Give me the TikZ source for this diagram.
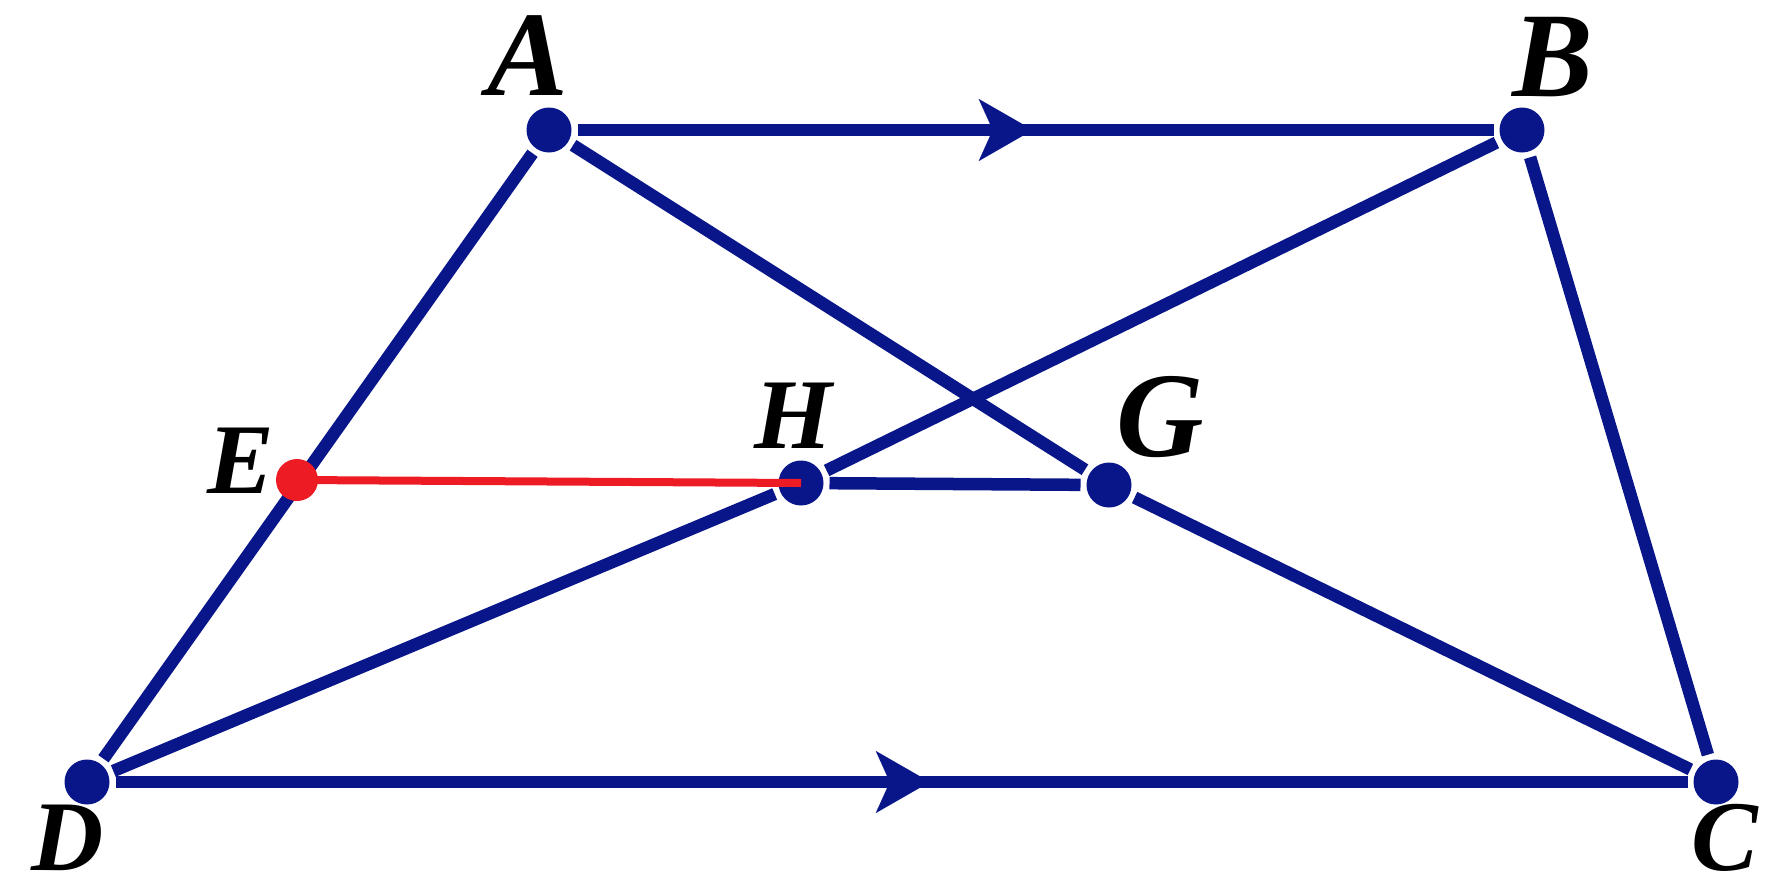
\documentclass[tikz,border=0pt]{standalone}
\usepackage{fontspec}
\setmainfont{Liberation Serif}
\usetikzlibrary{arrows.meta,decorations.markings,backgrounds}
\definecolor{navy}{RGB}{8,22,138}
\definecolor{redpt}{RGB}{237,28,36}
\begin{document}
\begin{tikzpicture}[x=1pt,y=-1pt,
  dot/.style={circle,fill=navy,inner sep=0pt,minimum size=45pt,outer sep=6pt},
  reddot/.style={circle,fill=redpt,inner sep=0pt,minimum size=42pt,outer sep=0pt},
  edge/.style={draw=navy,line width=12.5pt},
  redline/.style={draw=redpt,line width=8pt},
  biglab/.style={inner sep=0pt,font=\bfseries\itshape\fontsize{121}{121}\selectfont},
  smalllab/.style={inner sep=0pt,font=\bfseries\itshape\fontsize{100}{100}\selectfont},
  midarrow/.style={postaction={decorate},decoration={markings,mark=at position #1 with {\arrow{Stealth[length=54pt,width=62pt,inset=14pt,line width=0.01pt]}}}},
]
\useasboundingbox (0,0) rectangle (1774,887);
% points
\node[dot] (A) at (549,130) {};
\node[dot] (B) at (1522,130) {};
\node[dot] (C) at (1716,782) {};
\node[dot] (D) at (87,782) {};
\node[dot] (H) at (801,483) {};
\node[dot] (G) at (1109,485) {};
\node[reddot] (E) at (297,480) {};
% connectors
\begin{scope}[on background layer]
  \draw[edge,midarrow=0.497] (A) -- (B);
  \draw[edge,midarrow=0.518] (D) -- (C);
  \draw[edge] (B) -- (C);
  \draw[edge] (A) -- (D);
  \draw[edge] (A) -- (G);
  \draw[edge] (G) -- (C);
  \draw[edge] (B) -- (H);
  \draw[edge] (H) -- (D);
  \draw[edge] (H) -- (G);
\end{scope}
\draw[redline] (E.center) -- (H.center);
% labels
\node[biglab] (lA) at (528,56) {A};
\node[biglab] (lB) at (1553,57) {B};
\node[biglab] (lG) at (1160,417) {G};
\node[smalllab] (lC) at (1725,838) {C};
\node[smalllab] (lD) at (68,838) {D};
\node[smalllab] (lE) at (241,461) {E};
\node[smalllab] (lH) at (793,416) {H};
\end{tikzpicture}
\end{document}
